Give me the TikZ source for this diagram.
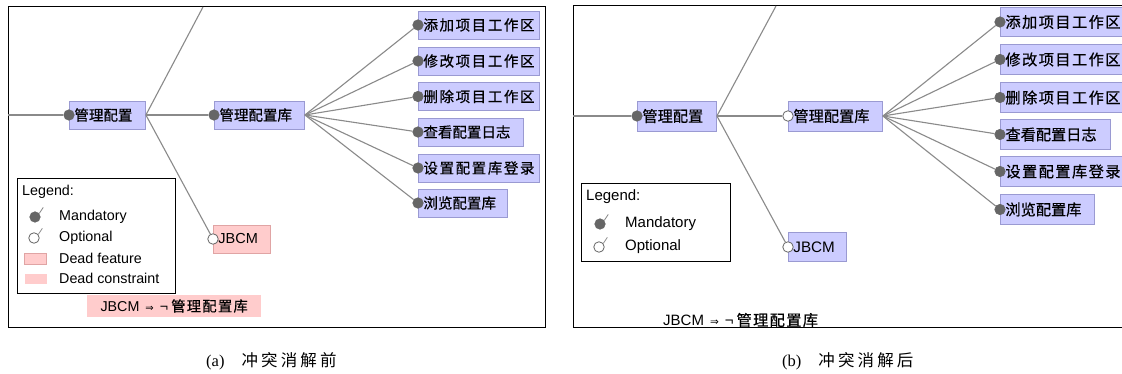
\documentclass[tikz,border=0pt]{standalone}
\usepackage{fontspec}
\setmainfont{Liberation Serif}
\newfontfamily\lsans{Liberation Sans}
\newfontfamily\cjk[FakeBold=0.6]{Noto Sans CJK SC}
\newfontfamily\cjkw[FakeBold=0.6,LetterSpace=11]{Noto Sans CJK SC}
\newfontfamily\cjkwr[FakeBold=0.6,LetterSpace=9.5]{Noto Sans CJK SC}
\newfontfamily\cjkc[FakeBold=0.6,LetterSpace=9]{Noto Sans CJK SC}
\newfontfamily\cjkcap[LetterSpace=19]{Noto Sans CJK SC}
\newfontfamily\djv{DejaVu Sans}
\definecolor{lav}{HTML}{CCCCFF}
\definecolor{lavb}{HTML}{9A9AD2}
\definecolor{pinkf}{HTML}{FFCCCC}
\definecolor{pinkb}{HTML}{E0A4A4}
\definecolor{edgec}{HTML}{8A8A8A}
\definecolor{dotc}{HTML}{666666}
\tikzset{
  frame/.style={draw=black, line width=1pt},
  edge/.style={draw=edgec, line width=1.1pt},
  fbox/.style={draw=lavb, fill=lav, line width=0.9pt, inner xsep=5pt, inner ysep=0pt, anchor=west, align=left},
  deadbox/.style={fbox, draw=pinkb, fill=pinkf},
  fsL/.style={minimum height=28pt, font=\cjk\fontsize{14.5}{16}\selectfont},
  fsR/.style={minimum height=29.5pt, font=\cjk\fontsize{15.2}{17}\selectfont},
  mand/.style={circle, fill=dotc, draw=dotc, line width=0.6pt, minimum size=10.5pt, inner sep=0pt},
  opt/.style={circle, fill=white, draw=dotc, line width=0.8pt, minimum size=10.5pt, inner sep=0pt},
  lgtext/.style={anchor=west, inner sep=0pt, font=\lsans\fontsize{14.3}{16}\selectfont},
  lgbox/.style={draw=black, line width=1pt, anchor=north west, inner sep=0pt},
  captxt/.style={anchor=west, inner sep=0pt, font=\fontsize{16.5}{18}\selectfont}
}
\begin{document}
\begin{tikzpicture}[x=1pt,y=-1pt]
\useasboundingbox (0,0) rectangle (1122,374);
\clip (0,0) rectangle (1122,374);
\fill[white] (0,0) rectangle (1122,374);

% ================= LEFT PANEL =================
\draw[frame] (8,7) rectangle (545,327);
\coordinate (Lroot) at (8,115);
\coordinate (Ltop) at (203,7);

\node[fbox, fsL, minimum width=76pt, text width=66pt] (Lgp) at (69,115) {管理配置};
\node[fbox, fsL, minimum width=90pt, text width=80pt] (Lgk) at (214,115) {管理配置库};
\node[deadbox, fsL, minimum width=57pt, text width=47pt, font=\lsans\fontsize{14.5}{16}\selectfont] (Ljb) at (213,239) {JBCM};

\node[fbox, fsL, minimum width=121pt, text width=111pt] (L1) at (418,25) {\cjkw 添加项目工作区};
\node[fbox, fsL, minimum width=121pt, text width=111pt] (L2) at (418,61) {\cjkw 修改项目工作区};
\node[fbox, fsL, minimum width=121pt, text width=111pt] (L3) at (418,96.5) {\cjkw 删除项目工作区};
\node[fbox, fsL, minimum width=105pt, text width=95pt] (L4) at (418,132) {查看配置日志};
\node[fbox, fsL, minimum width=121pt, text width=111pt] (L5) at (418,168) {\cjkw 设置配置库登录};
\node[fbox, fsL, minimum width=89pt, text width=79pt] (L6) at (418,203) {浏览配置库};

\node[mand] (Lgpc) at (Lgp.west) {};
\node[mand] (Lgkc) at (Lgk.west) {};
\node[opt] (Ljbc) at (Ljb.west) {};
\foreach \i in {1,...,6} { \node[mand] (L\i c) at (L\i.west) {}; }

\draw[edge] (Lroot) -- (Lgpc);
\draw[edge] (Lgp.east) -- (Ltop);
\draw[edge] (Lgp.east) -- (Lgkc);
\draw[edge] (Lgp.east) -- (Ljbc);
\foreach \i in {1,...,6} { \draw[edge] (Lgk.east) -- (L\i c); }

% legend left
\node[lgbox, minimum width=158pt, minimum height=115pt] (Lleg) at (17,178) {};
\node[lgtext] (Llegt) at (22,192) {Legend:};
\node[mand] (Llm) at (35,217) {};
\draw[edgec, line width=0.8pt] (Llm.40) -- ++(4,-6);
\node[opt] (Llo) at (34,238) {};
\draw[edgec, line width=0.8pt] (Llo.40) -- ++(4,-6);
\node[draw=pinkb, fill=pinkf, line width=0.9pt, minimum width=22pt, minimum height=11pt, inner sep=0pt] (Llf) at (35.5,259) {};
\node[fill=pinkf, minimum width=22pt, minimum height=10pt, inner sep=0pt] (Llc) at (35.5,279) {};
\node[lgtext] (Llmt) at (59,217) {Mandatory};
\node[lgtext] (Llot) at (59,238) {Optional};
\node[lgtext] (Llft) at (59,258) {Dead feature};
\node[lgtext] (Llct) at (59,278) {Dead constraint};

% constraint left
\node[fill=pinkf, minimum width=174pt, minimum height=22pt, inner sep=0pt, anchor=west,
      font=\lsans\fontsize{14.3}{16}\selectfont] (Lcons) at (87,306)
      {JBCM\hspace{6pt}{\djv\fontsize{10}{10}\selectfont ⇒}\hspace{6pt}¬\hspace{3pt}{\cjkc 管理配置库}};

% ================= RIGHT PANEL =================
\draw[frame] (1135,6) -- (573,6) -- (573,327) -- (1135,327);
\coordinate (Rroot) at (573,116);
\coordinate (Rtop) at (776,6);

\node[fbox, fsR, minimum width=79pt, text width=69pt, minimum height=30pt] (Rgp) at (637,116) {管理配置};
\node[fbox, fsR, minimum width=94pt, text width=84pt, minimum height=30pt] (Rgk) at (788,116) {管理配置库};
\node[fbox, fsR, minimum width=58pt, text width=48pt, font=\lsans\fontsize{15.2}{17}\selectfont] (Rjb) at (788,247) {JBCM};

\node[fbox, fsR, minimum width=127pt, text width=117pt] (R1) at (1000,22) {\cjkwr 添加项目工作区};
\node[fbox, fsR, minimum width=127pt, text width=117pt] (R2) at (1000,59.5) {\cjkwr 修改项目工作区};
\node[fbox, fsR, minimum width=127pt, text width=117pt] (R3) at (1000,97.5) {\cjkwr 删除项目工作区};
\node[fbox, fsR, minimum width=110pt, text width=100pt] (R4) at (1000,134.5) {查看配置日志};
\node[fbox, fsR, minimum width=127pt, text width=117pt] (R5) at (1000,171.5) {\cjkwr 设置配置库登录};
\node[fbox, fsR, minimum width=94pt, text width=84pt] (R6) at (1000,209.5) {浏览配置库};

\node[mand] (Rgpc) at (Rgp.west) {};
\node[opt] (Rgkc) at (Rgk.west) {};
\node[opt] (Rjbc) at (Rjb.west) {};
\foreach \i in {1,...,6} { \node[mand] (R\i c) at (R\i.west) {}; }

\draw[edge] (Rroot) -- (Rgpc);
\draw[edge] (Rgp.east) -- (Rtop);
\draw[edge] (Rgp.east) -- (Rgkc);
\draw[edge] (Rgp.east) -- (Rjbc);
\foreach \i in {1,...,6} { \draw[edge] (Rgk.east) -- (R\i c); }

% legend right
\node[lgbox, minimum width=149pt, minimum height=78pt] (Rleg) at (581,183) {};
\node[lgtext, font=\lsans\fontsize{15}{17}\selectfont] (Rlegt) at (586,197) {Legend:};
\node[mand] (Rlm) at (600,224) {};
\draw[edgec, line width=0.8pt] (Rlm.40) -- ++(4,-6);
\node[opt] (Rlo) at (599,247) {};
\draw[edgec, line width=0.8pt] (Rlo.40) -- ++(4,-6);
\node[lgtext, font=\lsans\fontsize{15}{17}\selectfont] (Rlmt) at (625,224) {Mandatory};
\node[lgtext, font=\lsans\fontsize{15}{17}\selectfont] (Rlot) at (625,247) {Optional};

% constraint right
\node[inner sep=0pt, anchor=west, font=\lsans\fontsize{15}{17}\selectfont] (Rcons) at (663,320)
      {JBCM\hspace{6pt}{\djv\fontsize{10.5}{10}\selectfont ⇒}\hspace{6pt}¬\hspace{3pt}{\cjkc\fontsize{15.2}{17}\selectfont 管理配置库}};

% ================= CAPTIONS =================
\node[captxt] (capa) at (206,361) {(a)\hspace{17pt}{\cjkcap\fontsize{16.5}{18}\selectfont 冲突消解前}};
\node[captxt] (capb) at (782,361) {(b)\hspace{17pt}{\cjkcap\fontsize{16.5}{18}\selectfont 冲突消解后}};
\end{tikzpicture}
\end{document}
